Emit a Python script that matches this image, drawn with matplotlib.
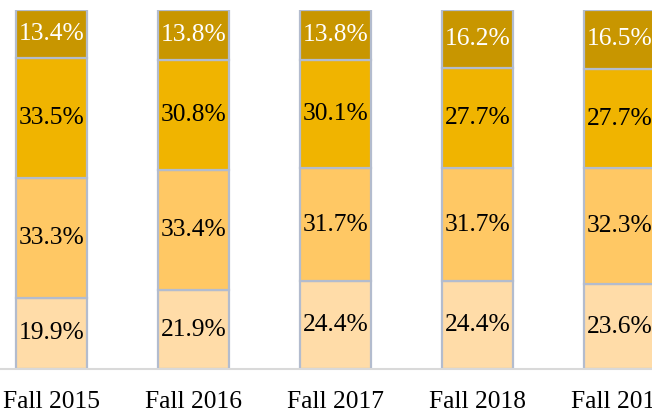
import matplotlib
matplotlib.use("Agg")
import matplotlib.pyplot as plt
import numpy as np

categories = ["Fall 2015", "Fall 2016", "Fall 2017", "Fall 2018", "Fall 2019"]
seg1 = [19.9, 21.9, 24.4, 24.4, 23.6]
seg2 = [33.3, 33.4, 31.7, 31.7, 32.3]
seg3 = [33.5, 30.8, 30.1, 27.7, 27.7]
seg4 = [13.4, 13.8, 13.8, 16.2, 16.5]

series = [seg1, seg2, seg3, seg4]
colors = ["#FFDCA8", "#FFC864", "#F0B400", "#C89600"]
text_colors = ["black", "black", "black", "white"]

W, H = 652, 415
fig = plt.figure(figsize=(W / 100, H / 100), dpi=100)
bottom_px, top_px = 369, 10
ax = fig.add_axes([0, (H - bottom_px) / H, 1, (bottom_px - top_px) / H])

x = np.arange(len(categories))
spacing = 142.0
c0 = 51.5
ax.set_xlim(-c0 / spacing, (W - c0) / spacing)
ax.set_ylim(0, 100)

font = ["Liberation Serif", "DejaVu Serif"]
base = np.zeros(len(categories))
for vals, col, tc in zip(series, colors, text_colors):
    vals = np.array(vals)
    ax.bar(x, vals, width=0.5, bottom=base, color=col, edgecolor="#B3BCCE",
           linewidth=1.6, zorder=2)
    for xi, b, v in zip(x, base, vals):
        ax.text(xi, b + v / 2, f"{v:.1f}%", ha="center", va="center",
                fontsize=18.4, color=tc, family=font, zorder=3)
    base += vals

for s in ["top", "right", "left"]:
    ax.spines[s].set_visible(False)
ax.spines["bottom"].set_color("#D9D9D9")
ax.spines["bottom"].set_linewidth(1.5)
ax.set_yticks([])
ax.set_xticks(x)
ax.set_xticklabels(categories, family=font, fontsize=18.4)
ax.tick_params(axis="x", length=0, pad=16)

fig.savefig("out.png", dpi=100)
